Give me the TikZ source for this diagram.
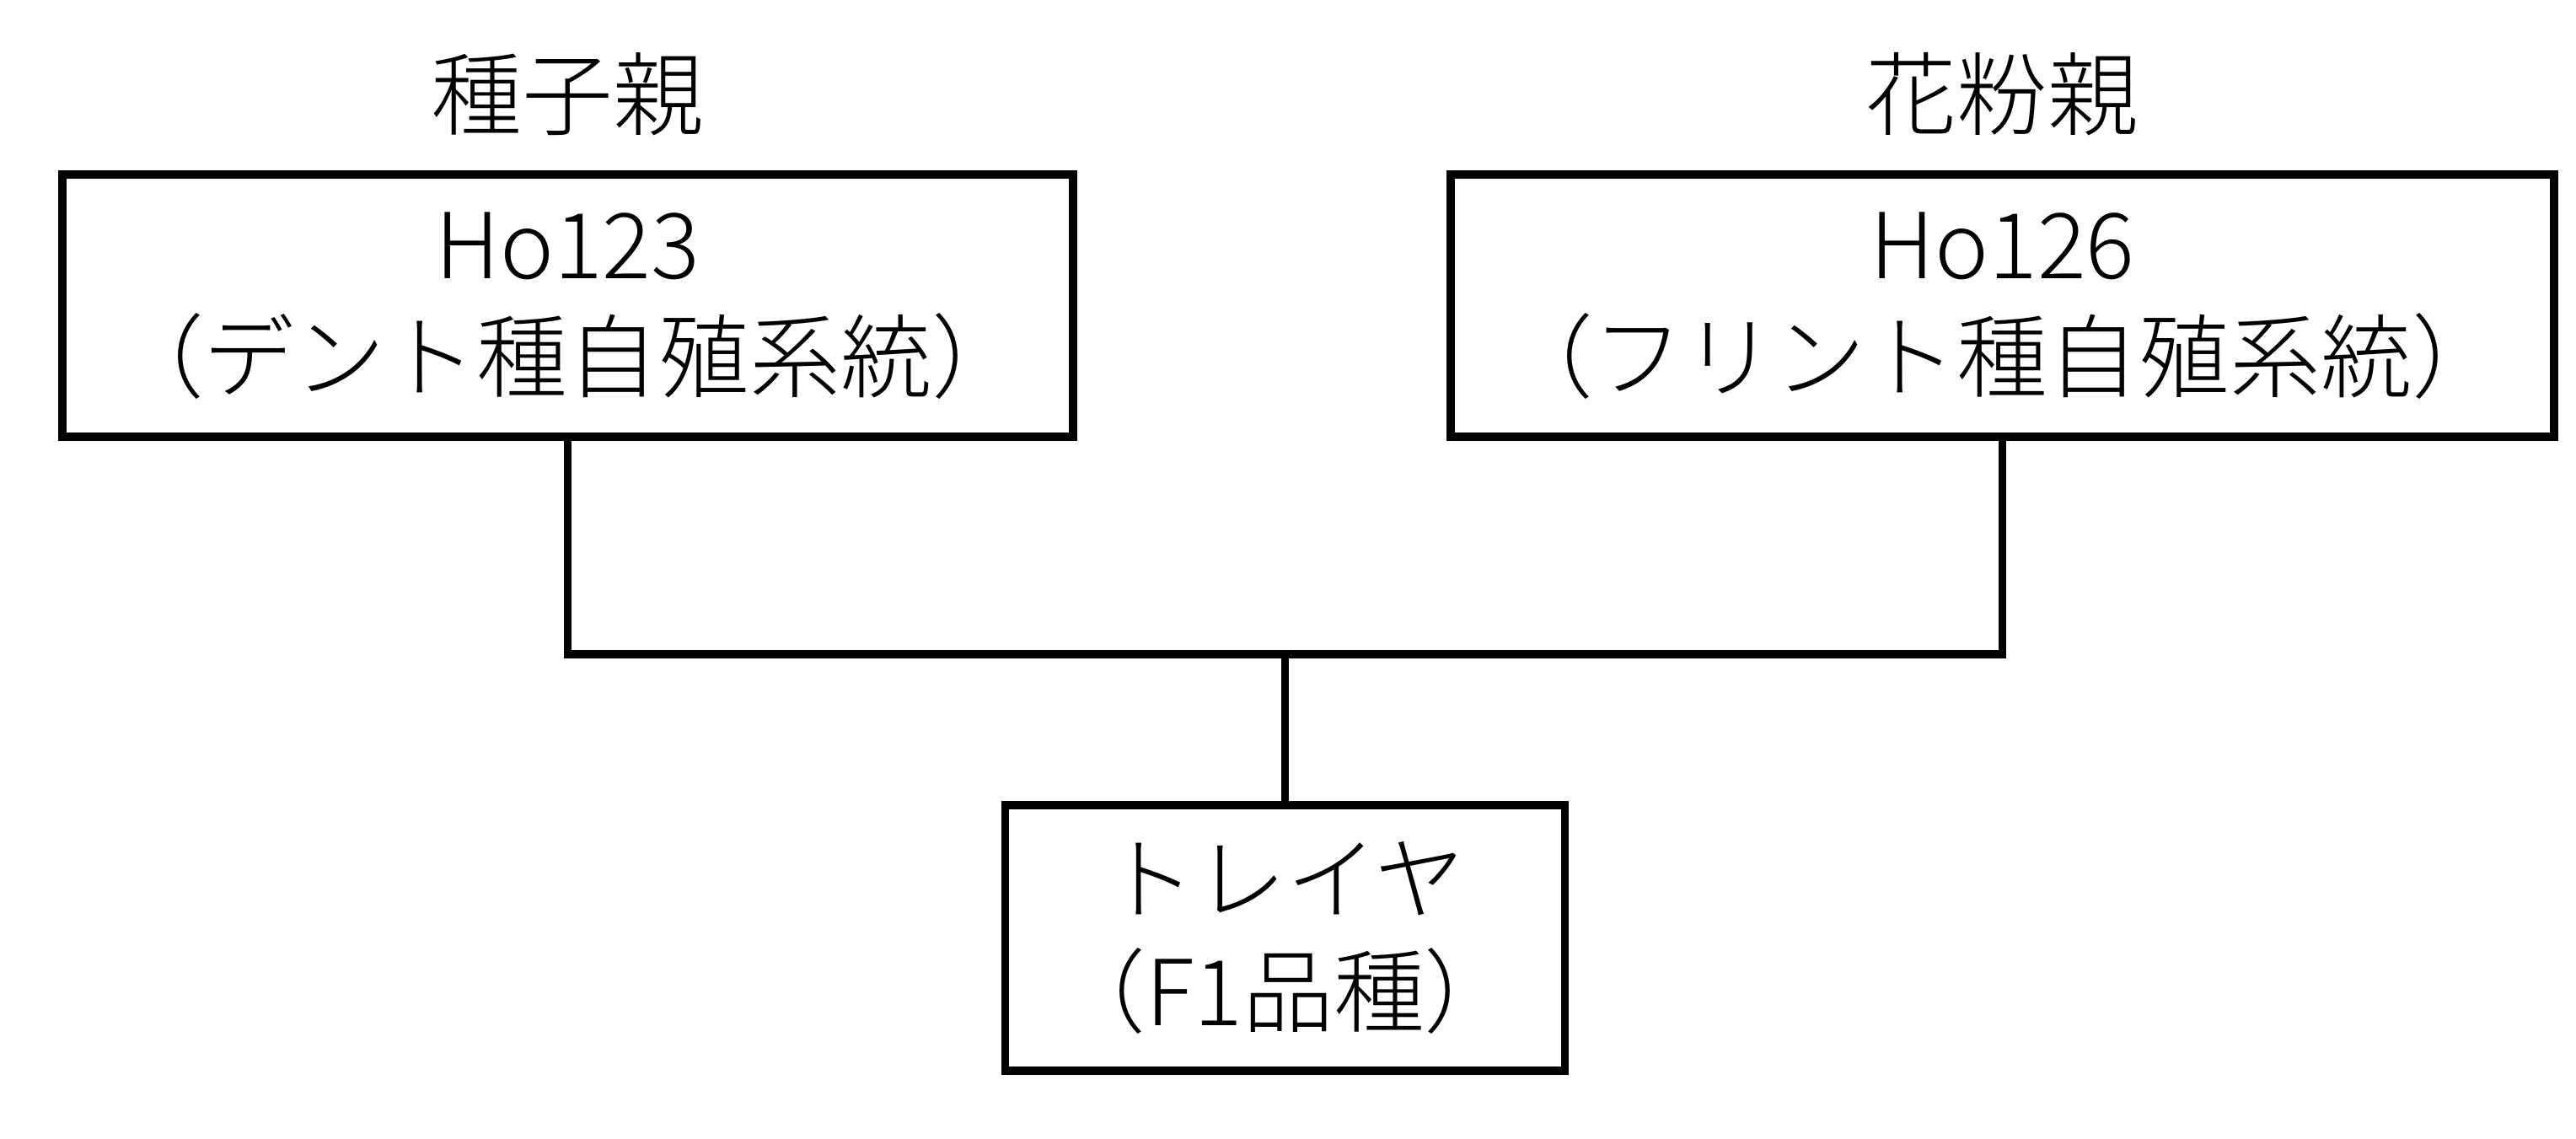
\documentclass[tikz,border=0pt]{standalone}
\usepackage{fontspec}
\setmainfont{Noto Sans CJK JP}[UprightFont=* Light]
\usetikzlibrary{positioning}

\begin{document}
\begin{tikzpicture}[node distance=1cm,
	box/.style={draw, line width=2.7pt, outer sep=0pt, align=center, font=\fontsize{30.7}{38}\selectfont},
	tag/.style={inner sep=0pt, font=\fontsize{30.7}{38}\selectfont},
	link/.style={line width=2.7pt}]
	\useasboundingbox (0,0) rectangle (30.56,13.51);
	\node[box, minimum width=11.99cm, minimum height=3.11cm] (seed) at (6.735,9.885) {Ho123\\（デント種自殖系統）};
	\node[box, minimum width=13.09cm, minimum height=3.11cm, right = 4.48cm of seed] (pollen) {Ho126\\（フリント種自殖系統）};
	\path (seed.south) -- (pollen.south) coordinate[midway] (mid);
	\node[box, minimum width=6.64cm, minimum height=3.15cm, below = 4.37cm of mid, anchor=north] (f1) {トレイヤ\\（F1品種）};
	
	\node[tag, above = 0.45cm of seed] (seedtag) {種子親};
	\node[tag, above = 0.45cm of pollen] (pollentag) {花粉親};
	
	\coordinate[above = 1.79cm of f1.north] (hub);
	\draw[link] (seed.south) |- (hub) -| (pollen.south);
	\draw[link] (hub) -- (f1.north);
	
\end{tikzpicture}
\end{document}
